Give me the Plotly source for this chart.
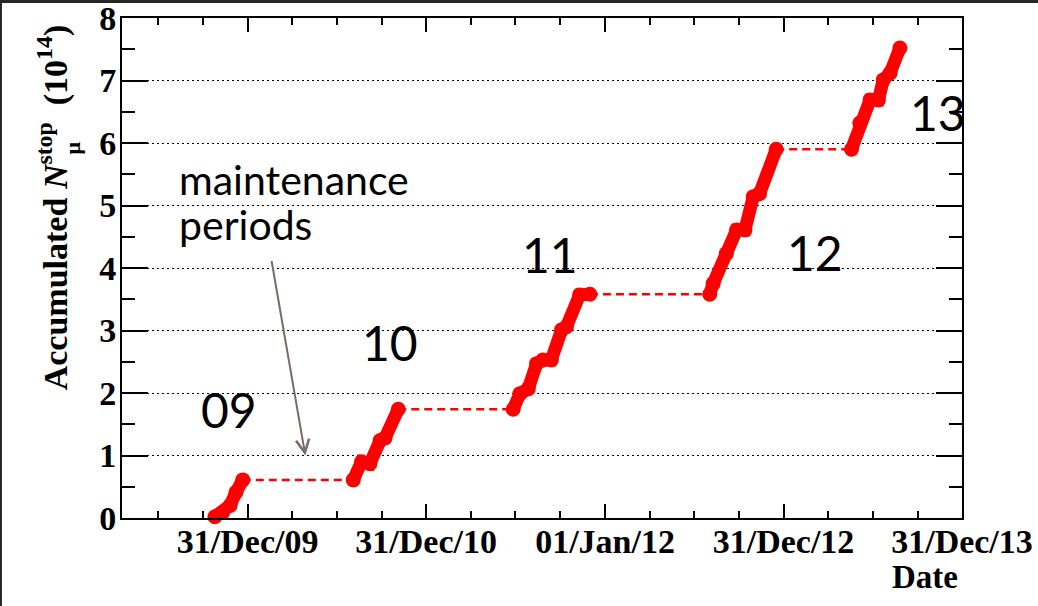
import plotly.graph_objects as go

# Accumulated stopped muons per run period (units of 1e14)
run09_dates = ["2009-10-25", "2009-11-10", "2009-11-25", "2009-12-07", "2009-12-21"]
run09_values = [0.02, 0.09, 0.20, 0.41, 0.61]

run10_dates = ["2010-08-04", "2010-08-21", "2010-09-07", "2010-09-28", "2010-10-08", "2010-11-04"]
run10_values = [0.61, 0.90, 0.87, 1.24, 1.28, 1.74]

run11_dates = ["2011-06-27", "2011-07-11", "2011-07-28", "2011-08-14", "2011-08-27",
               "2011-09-13", "2011-10-04", "2011-10-14", "2011-11-10", "2011-12-01"]
run11_values = [1.74, 1.99, 2.07, 2.47, 2.53, 2.53, 3.01, 3.06, 3.57, 3.58]

run12_dates = ["2012-08-02", "2012-08-09", "2012-09-05", "2012-09-26", "2012-10-13",
               "2012-10-30", "2012-11-12", "2012-12-16"]
run12_values = [3.58, 3.75, 4.23, 4.61, 4.61, 5.14, 5.19, 5.90]

run13_dates = ["2013-05-19", "2013-06-05", "2013-06-26", "2013-07-13", "2013-07-23",
               "2013-08-06", "2013-08-26"]
run13_values = [5.90, 6.32, 6.69, 6.69, 7.01, 7.12, 7.52]

run_labels = ["09", "10", "11", "12", "13"]

major_tick_dates = ["2009-12-31", "2010-12-31", "2012-01-01", "2012-12-31", "2013-12-31"]
major_tick_text = ["31/Dec/09", "31/Dec/10", "01/Jan/12", "31/Dec/12", "31/Dec/13"]
minor_tick_dates = ["2009-07-01", "2009-10-01", "2010-04-01", "2010-07-01", "2010-10-01",
                    "2011-04-01", "2011-07-01", "2011-10-01", "2012-04-01", "2012-07-01",
                    "2012-10-01", "2013-04-01", "2013-07-01", "2013-10-01"]

RED = "#ff0000"
SERIF = "Liberation Serif"
SANS = "Lato"

runs = [(run09_dates, run09_values), (run10_dates, run10_values),
        (run11_dates, run11_values), (run12_dates, run12_values),
        (run13_dates, run13_values)]

fig = go.Figure()

# dashed connectors across the shutdown periods
for (d0, v0), (d1, v1) in zip(runs[:-1], runs[1:]):
    fig.add_trace(go.Scatter(
        x=[d0[-1], d1[0]], y=[v0[-1], v1[0]], mode="lines",
        line=dict(color=RED, width=2.5, dash="8px,5px"),
        showlegend=False, hoverinfo="skip"))

# thick accumulation curves for each run
for (d, v), name in zip(runs, run_labels):
    fig.add_trace(go.Scatter(
        x=d, y=v, mode="lines+markers", name=name,
        line=dict(color=RED, width=13),
        marker=dict(color=RED, size=15),
        cliponaxis=False, showlegend=False))

axis_common = dict(
    showline=True, linecolor="black", linewidth=2, mirror="allticks",
    ticks="inside", tickcolor="black", tickwidth=1.5,
    zeroline=False, automargin=False, ticklabeloverflow="allow",
    tickfont=dict(family=SERIF, size=34, color="black", weight="bold"),
)

fig.update_xaxes(
    type="date", range=["2009-04-18", "2013-12-31"],
    tickmode="array", tickvals=major_tick_dates, ticktext=major_tick_text,
    ticklen=14, showgrid=False, ticklabelstandoff=-8,
    minor=dict(tickmode="array", tickvals=minor_tick_dates, ticklen=7,
               tickwidth=1.5, tickcolor="black", ticks="inside", showgrid=False),
    **axis_common)

fig.update_yaxes(
    range=[0, 8], tickmode="linear", tick0=0, dtick=1, ticklen=26,
    showgrid=True, gridcolor="black", gridwidth=1, griddash="2px,3px",
    ticklabelstandoff=-3,
    minor=dict(tickmode="linear", tick0=0.5, dtick=1, ticklen=13, tickwidth=1.5,
               tickcolor="black", ticks="inside", showgrid=False),
    **axis_common)

annotations = []

# y-axis title
annotations.append(dict(
    text="Accumulated <i>N</i><sup>stop</sup>  (10<sup>14</sup>)",
    xref="paper", yref="paper", x=-0.083, y=0.622, textangle=-90,
    showarrow=False, xanchor="center", yanchor="middle",
    font=dict(family=SERIF, size=34, color="black", weight="bold")))
annotations.append(dict(
    text="μ", xref="paper", yref="paper", x=-0.060, y=0.74, textangle=-90,
    showarrow=False, xanchor="center", yanchor="middle",
    font=dict(family=SERIF, size=22, color="black", weight="bold")))

# x-axis title
annotations.append(dict(
    text="Date", xref="paper", yref="paper", x=0.998, y=-0.118,
    showarrow=False, xanchor="right", yanchor="middle",
    font=dict(family=SERIF, size=33, color="black", weight="bold")))

# run-year labels
label_pos = [(0.127, 0.217), (0.319, 0.352), (0.510, 0.527), (0.825, 0.531), (0.971, 0.811)]
for lab, (px, py) in zip(run_labels, label_pos):
    annotations.append(dict(
        text=lab, xref="paper", yref="paper", x=px, y=py, showarrow=False,
        xanchor="center", yanchor="middle",
        font=dict(family=SANS, size=48, color="black")))

# shutdown note with arrow
annotations.append(dict(
    text="maintenance", xref="paper", yref="paper", x=0.0655, y=0.677,
    showarrow=False, xanchor="left", yanchor="middle",
    font=dict(family=SANS, size=41, color="black")))
annotations.append(dict(
    text="periods", xref="paper", yref="paper", x=0.0655, y=0.588,
    showarrow=False, xanchor="left", yanchor="middle",
    font=dict(family=SANS, size=41, color="black")))
annotations.append(dict(
    text="", x="2010-04-28", y=1.0, xref="x", yref="y",
    showarrow=True, ax=-34, ay=-196, axref="pixel", ayref="pixel",
    arrowhead=5, arrowsize=1.3, arrowwidth=2, arrowcolor="#7a6c63"))

shapes = [
    # dark frame strips along the top and left edges of the canvas
    dict(type="rect", xref="paper", yref="paper", x0=-0.1453, x1=1.091,
         y0=1.030, y1=1.037, fillcolor="#262626", line=dict(width=0), layer="above"),
    dict(type="rect", xref="paper", yref="paper", x0=-0.1453, x1=-0.1429,
         y0=-0.177, y1=1.037, fillcolor="#262626", line=dict(width=0), layer="above"),
]

fig.update_layout(
    width=1038, height=606,
    margin=dict(l=122, r=76, t=18, b=88, pad=0, autoexpand=False),
    paper_bgcolor="white", plot_bgcolor="white",
    annotations=annotations, shapes=shapes,
    showlegend=False,
)

fig.write_html("out.html")
